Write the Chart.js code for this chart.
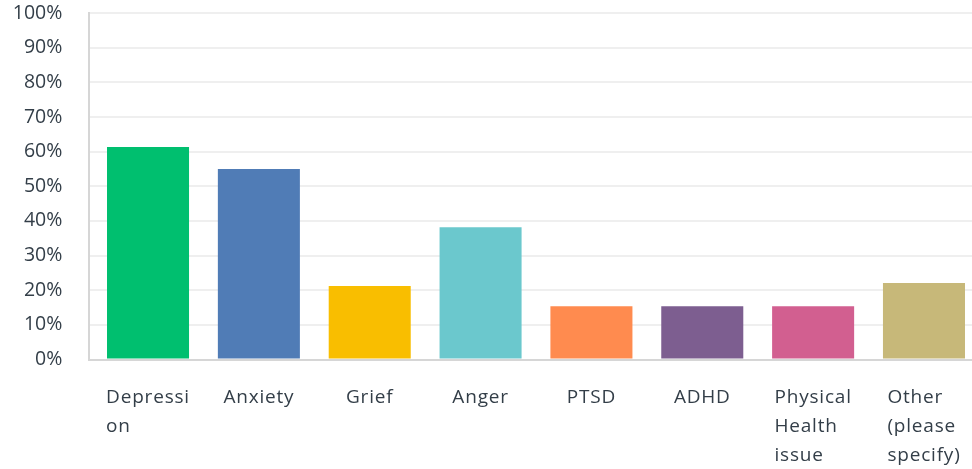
<!DOCTYPE html>
<html>
<head>
<meta charset="utf-8">
<script src="https://cdn.jsdelivr.net/npm/chart.js@4/dist/chart.umd.min.js"></script>
<style>
  html, body { margin: 0; padding: 0; background: #ffffff; overflow: hidden; }
  #wrap { position: relative; width: 972px; height: 469px; }
</style>
</head>
<body>
<div id="wrap"><canvas id="chart" width="972" height="469"></canvas></div>
<script>
// Answer options (wrapped the way they appear under each bar)
const categories = [
  ["Depressi", "on"],
  ["Anxiety"],
  ["Grief"],
  ["Anger"],
  ["PTSD"],
  ["ADHD"],
  ["Physical", "Health", "issue"],
  ["Other", "(please", "specify)"]
];
// Share of respondents, in percent
const percentages = [61.3, 55.0, 21.2, 38.2, 15.4, 15.4, 15.4, 22.1];
const barColors = ["#00bf6f", "#507cb6", "#f9be00", "#6bc8cd", "#ff8b4f", "#7d5e90", "#d25f90", "#c7b879"];
const yTickValues = [0, 10, 20, 30, 40, 50, 60, 70, 80, 90, 100];

const TEXT_COLOR = "#333e48";
const FONT_FAMILY = "'Open Sans', 'Noto Sans', sans-serif";

// Category band runs slightly past the right edge, as in the survey layout
const bandPlugin = {
  id: "categoryBand",
  afterLayout(chart) {
    const x = chart.scales.x;
    x.left = 92.6;
    x.right = 979.4;
    x.configure();
  }
};

// Multi-line category labels: block centred under the bar, lines left-aligned
const categoryLabelPlugin = {
  id: "categoryLabels",
  afterDraw(chart) {
    const { ctx, chartArea } = chart;
    const x = chart.scales.x;
    ctx.save();
    ctx.font = "19px " + FONT_FAMILY;
    ctx.letterSpacing = "0.8px";
    ctx.fillStyle = TEXT_COLOR;
    ctx.textBaseline = "middle";
    ctx.textAlign = "left";
    categories.forEach((lines, i) => {
      const center = x.getPixelForTick(i);
      const blockW = Math.max(...lines.map(l => ctx.measureText(l).width));
      const left = center - blockW / 2;
      lines.forEach((line, k) => {
        ctx.fillText(line, left, chartArea.bottom + 38.5 + k * 29);
      });
    });
    ctx.restore();
  }
};

new Chart(document.getElementById("chart"), {
  type: "bar",
  data: {
    labels: categories,
    datasets: [{
      data: percentages,
      backgroundColor: barColors,
      borderWidth: 0,
      barPercentage: 0.74,
      categoryPercentage: 1.0
    }]
  },
  options: {
    responsive: false,
    animation: false,
    events: [],
    layout: { padding: { top: 13, right: 0, bottom: 109.5, left: 0 } },
    plugins: {
      legend: { display: false },
      tooltip: { enabled: false },
      title: { display: false }
    },
    scales: {
      x: {
        type: "category",
        offset: true,
        grid: { display: false },
        border: { display: false },
        ticks: { display: false },
        afterFit(scale) { scale.height = 0; }
      },
      y: {
        min: 0,
        max: 100,
        afterBuildTicks(scale) {
          scale.ticks = yTickValues.map(v => ({ value: v }));
        },
        afterFit(scale) {
          scale.width = 89.3;
          scale.paddingTop = 0;
          scale.paddingBottom = 0;
        },
        border: { display: true, color: "#d6d6d6", width: 2 },
        grid: {
          drawTicks: false,
          lineWidth: 2,
          color: ctx => (ctx.tick && ctx.tick.value === 0 ? "#d6d6d6" : "#efefef")
        },
        ticks: {
          padding: 27,
          color: TEXT_COLOR,
          font: { family: FONT_FAMILY, size: 19.5 },
          callback: v => v + "%"
        }
      }
    }
  },
  plugins: [bandPlugin, categoryLabelPlugin]
});
</script>
</body>
</html>
